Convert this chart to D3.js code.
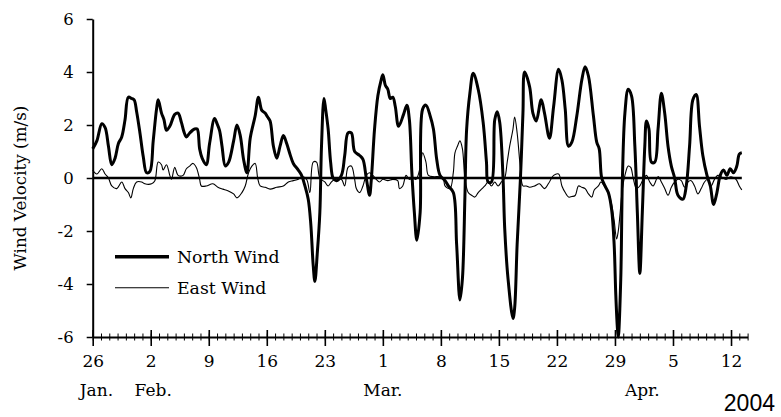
<!DOCTYPE html>
<html><head><meta charset="utf-8">
<script src="https://cdn.jsdelivr.net/npm/d3@7"></script>
<style>body{margin:0;background:#fff}svg{display:block}</style>
</head><body>
<svg id="c" width="781" height="417"></svg>
<script>
// Day offsets counted from 26 Jan 2004
const northDays = [0.0,0.5,1.1,1.5,1.9,2.3,2.7,3.1,3.5,3.9,4.3,4.7,5.0,5.3,5.7,6.1,6.5,6.9,7.3,7.7,7.9,8.3,8.6,8.9,9.3,9.9,10.3,10.7,11.0,11.3,11.7,12.3,12.6,12.9,13.2,13.7,14.1,14.7,15.0,15.3,15.6,16.0,16.4,17.0,17.4,17.8,18.2,18.6,19.0,19.6,20.0,20.4,20.8,21.1,21.4,21.8,22.2,22.6,23.0,23.4,23.8,24.2,24.8,25.2,25.6,26.0,26.3,26.6,26.8,27.1,27.4,27.6,27.9,28.1,28.4,28.7,29.0,29.4,30.0,30.4,30.8,31.2,31.6,32.2,32.6,33.0,33.4,33.6,34.0,34.4,34.8,35.0,35.3,35.6,35.9,36.2,36.5,36.9,37.5,37.9,38.2,38.5,38.8,39.1,39.5,39.8,40.2,40.7,41.1,41.5,41.9,42.5,42.9,43.5,43.9,44.3,44.6,44.9,45.1,45.5,45.9,46.5,47.1,47.5,47.7,48.1,48.5,48.8,49.1,49.5,49.7,50.1,50.7,50.9,51.2,51.6,51.9,52.1,52.7,53.1,53.5,54.1,54.5,55.1,55.6,56.2,56.6,57.0,57.4,57.8,58.4,59.0,59.4,59.8,60.4,60.8,61.1,61.4,61.8,62.2,62.6,62.9,63.1,63.3,63.4,63.7,63.9,64.2,64.6,65.0,65.4,65.7,66.0,66.3,66.6,66.8,67.1,67.4,67.8,68.2,68.6,69.0,69.4,69.8,70.2,70.6,71.2,71.6,72.0,72.4,72.8,73.2,73.6,74.1,74.5,74.9,75.3,75.7,76.1,76.5,76.9,77.3,77.7,78.0,78.3];
const northValues = [1.1,1.4,2.05,1.9,1.2,0.5,0.75,1.3,1.55,2.2,3.05,3.0,2.95,2.5,1.7,0.8,0.2,0.25,1.4,2.6,2.95,2.45,2.2,1.8,1.95,2.4,2.45,2.1,1.75,1.55,1.7,1.85,1.85,1.1,0.75,0.5,1.3,2.25,2.05,1.8,1.2,0.45,0.6,1.4,2.0,1.6,0.7,0.2,1.5,2.35,3.05,2.55,2.45,2.3,2.15,1.2,0.75,1.2,1.6,1.3,0.9,0.55,0.3,0.1,-0.3,-0.8,-1.7,-3.3,-3.9,-2.8,-1.3,1.2,3.0,2.6,1.85,0.6,0.0,-0.1,0.1,0.85,1.7,1.7,1.0,0.85,0.7,0.0,-0.65,-0.1,1.85,3.1,3.7,3.9,3.5,3.35,3.0,3.05,2.7,1.95,2.4,2.75,2.2,0.2,-1.3,-2.35,-1.3,2.6,2.75,2.35,1.85,0.7,0.1,-0.1,-0.3,-0.55,-2.5,-4.6,-3.8,-0.7,1.8,3.2,3.95,3.35,2.1,0.6,-0.15,-0.15,2.2,2.5,2.1,0.0,-1.9,-3.8,-5.3,-4.9,-2.5,0.0,2.45,4.0,3.45,2.45,2.15,2.95,2.45,1.5,2.7,4.1,3.7,2.6,1.2,1.35,2.35,3.7,4.2,3.85,2.35,1.35,1.1,0.0,-0.3,-0.55,-1.2,-2.5,-4.4,-5.7,-6.0,-3.8,0.0,2.45,3.35,3.1,1.2,-1.3,-3.6,-1.3,1.2,2.15,1.85,0.6,0.6,1.85,3.2,2.45,1.2,0.45,0.0,-0.65,-0.8,-0.3,1.2,2.95,3.15,1.95,0.85,0.1,-0.3,-1.0,-0.55,0.1,0.3,0.1,0.35,0.2,0.45,0.9,0.95];

const eastDays = [0.0,0.5,1.1,1.5,1.9,2.3,2.9,3.5,3.9,4.3,4.6,4.9,5.3,5.9,6.3,7.1,7.5,7.9,8.3,8.5,8.9,9.3,9.5,9.9,10.3,10.9,11.3,11.7,12.1,12.5,12.9,13.1,13.7,14.5,15.1,15.7,16.3,17.0,17.4,18.0,18.4,18.8,19.2,19.6,19.9,20.2,20.8,21.4,22.2,23.0,23.6,24.2,24.8,25.2,25.8,26.2,26.6,27.0,27.4,28.0,28.4,28.8,29.2,30.0,30.4,30.8,31.2,31.6,31.8,32.2,32.6,33.0,33.4,33.8,34.2,34.6,35.0,35.6,36.2,36.8,37.0,37.4,37.8,38.2,38.6,39.0,39.5,39.8,40.2,40.5,41.2,41.8,42.3,42.5,43.1,43.5,43.7,44.0,44.3,44.6,44.9,45.3,45.7,46.1,46.5,46.9,47.3,47.7,48.1,48.5,48.9,49.3,49.7,50.0,50.3,50.7,50.9,51.2,51.6,51.9,52.3,52.7,53.3,53.9,54.5,55.0,55.6,56.2,56.6,57.0,57.4,57.8,58.2,58.6,59.0,59.4,59.8,60.2,60.5,61.0,61.3,61.7,62.2,62.6,62.9,63.2,63.4,63.6,63.9,64.2,64.6,64.9,65.2,65.6,66.0,66.4,66.8,67.2,67.6,68.2,68.6,69.0,69.4,69.8,70.2,70.6,71.0,71.4,71.8,72.2,72.6,73.0,73.4,73.8,74.2,74.6,75.0,75.4,75.8,76.4,77.0,77.6,78.0,78.3];
const eastValues = [0.3,0.15,0.35,0.15,0.0,-0.3,-0.4,-0.15,-0.4,-0.55,-0.75,-0.4,-0.15,-0.15,-0.22,-0.22,-0.1,0.6,0.5,0.3,0.5,0.1,-0.05,0.4,0.1,0.1,0.35,0.45,0.55,0.4,-0.05,-0.3,-0.3,-0.22,-0.35,-0.42,-0.48,-0.6,-0.75,-0.55,-0.3,0.2,0.45,0.55,0.0,-0.3,-0.35,-0.42,-0.35,-0.3,-0.15,-0.1,-0.05,0.05,-0.05,-0.55,0.6,0.6,0.0,-0.15,-0.3,-0.15,-0.05,-0.05,-0.3,0.4,0.45,-0.05,-0.4,-0.55,-0.3,0.1,0.2,0.1,-0.05,-0.15,-0.05,-0.1,-0.05,-0.1,-0.4,-0.3,0.1,-0.05,0.0,-0.05,0.4,0.95,0.6,0.1,0.05,0.05,-0.05,-0.3,-0.4,0.2,0.95,1.2,1.4,1.1,0.0,-0.55,-0.65,-0.72,-0.55,-0.42,-0.3,-0.15,-0.3,-0.15,-0.3,-0.15,0.0,0.6,1.2,1.85,2.3,1.7,0.35,-0.3,-0.3,-0.35,-0.3,-0.22,-0.4,-0.2,0.1,0.15,-0.3,-0.55,-0.72,-0.7,-0.66,-0.3,-0.35,-0.4,-0.6,-0.72,-0.45,-0.3,-0.15,-0.3,-0.55,-1.0,-1.6,-2.3,-2.0,-1.4,-0.4,0.1,0.45,0.4,0.0,-0.4,-0.3,-0.05,0.1,-0.15,-0.3,0.05,-0.15,-0.4,-0.65,-0.35,-0.15,-0.05,-0.1,-0.35,-0.15,-0.1,-0.3,-0.6,-0.4,-0.15,-0.05,-0.3,-0.05,0.1,0.05,-0.05,0.05,-0.05,-0.3,-0.45];

const majorTickDays = [0,7,14,21,28,35,42,49,56,63,70,77];
const majorTickLabels = ["26","2","9","16","23","1","8","15","22","29","5","12"];
const monthLabels = ["Jan.","Feb.","Mar.","Apr."];
const monthDays = [0.45,7.3,35,66.3];
const yTickValues = [-6,-4,-2,0,2,4,6];
const seriesNames = ["North Wind","East Wind"];
const yearLabel = "2004";
const yTitle = "Wind Velocity (m/s)";

const svg = d3.select("#c");
const FONT = "DejaVu Serif";
const x = d3.scaleLinear().domain([0,79]).range([92.7,747.6]);
const y = d3.scaleLinear().domain([-6,6]).range([337,19]);

// Y axis
const yAx = svg.append("g").attr("transform",`translate(${x(0)},0)`)
  .call(d3.axisLeft(y).tickValues(yTickValues).tickSize(6).tickSizeOuter(0).tickPadding(13).tickFormat(d=>String(d)));
yAx.select(".domain").attr("stroke","#000").attr("stroke-width",2);
yAx.selectAll(".tick line").attr("stroke","#000").attr("stroke-width",1.5);
yAx.selectAll("text").attr("font-family",FONT).attr("font-size",16.5).attr("fill","#000");

// X axis: minor daily ticks
const xMinor = svg.append("g").attr("transform",`translate(0,${y(-6)})`)
  .call(d3.axisBottom(x).tickValues(d3.range(0,80)).tickSize(3.5).tickSizeOuter(0).tickFormat(""));
xMinor.select(".domain").attr("stroke","#000").attr("stroke-width",2);
xMinor.selectAll(".tick line").attr("y1",-3.5).attr("stroke","#000").attr("stroke-width",1);

// X axis: major weekly ticks
const xMajor = svg.append("g").attr("transform",`translate(0,${y(-6)})`)
  .call(d3.axisBottom(x).tickValues(majorTickDays).tickSize(9).tickSizeOuter(0).tickFormat((d,i)=>majorTickLabels[i]));
xMajor.select(".domain").remove();
xMajor.selectAll(".tick line").attr("y1",-7).attr("stroke","#000").attr("stroke-width",1.6);
xMajor.selectAll("text").attr("y",30).attr("dy",null).attr("font-family",FONT).attr("font-size",17).attr("fill","#000");

// Month labels
svg.append("g").selectAll("text").data(monthLabels).join("text")
  .attr("x",(d,i)=>x(monthDays[i])).attr("y",396).attr("text-anchor","middle")
  .attr("font-family",FONT).attr("font-size",17).attr("fill","#000").text(d=>d);

svg.append("text").attr("x",775).attr("y",411).attr("text-anchor","end")
  .attr("font-family","Liberation Sans").attr("font-size",23).attr("fill","#000").text(yearLabel);

// Y title
svg.append("text").attr("transform","translate(26,188) rotate(-90)").attr("text-anchor","middle")
  .attr("font-family",FONT).attr("font-size",16.8).attr("fill","#000").text(yTitle);

// Lines
const east = eastDays.map((d,i)=>[d,eastValues[i]]);
const north = northDays.map((d,i)=>[d,northValues[i]]);
const line = d3.line().x(d=>x(d[0])).y(d=>y(d[1])).curve(d3.curveCatmullRom.alpha(0.5));

svg.append("path").datum(east).attr("d",line).attr("fill","none").attr("stroke","#000").attr("stroke-width",1.1).attr("stroke-linejoin","round");
svg.append("line").attr("x1",x(0)).attr("x2",x(78.3)).attr("y1",y(0)).attr("y2",y(0)).attr("stroke","#000").attr("stroke-width",2.5);
svg.append("path").datum(north).attr("d",line).attr("fill","none").attr("stroke","#000").attr("stroke-width",3).attr("stroke-linejoin","round");

// Legend
const leg = svg.append("g");
const legY = [256.7, 287.7];
const legW = [3.5, 1.1];
seriesNames.forEach((n,i)=>{
  leg.append("line").attr("x1",115).attr("x2",169).attr("y1",legY[i]).attr("y2",legY[i]).attr("stroke","#000").attr("stroke-width",legW[i]);
  leg.append("text").attr("x",177).attr("y",legY[i]+6).attr("font-family",FONT).attr("font-size",17.3).attr("fill","#000").text(n);
});
</script>
</body></html>
